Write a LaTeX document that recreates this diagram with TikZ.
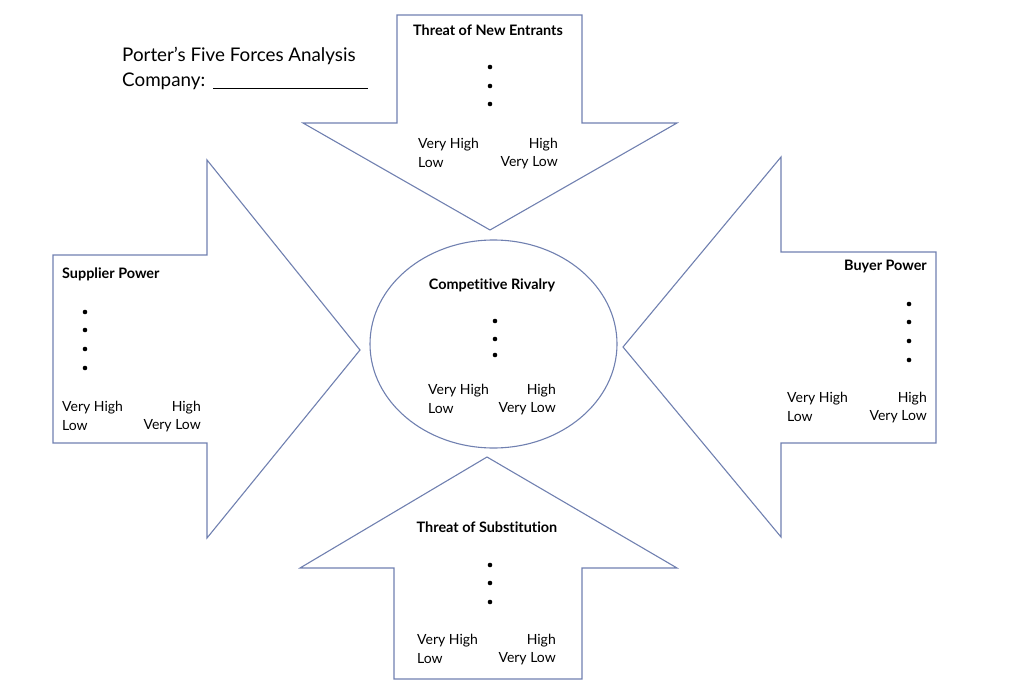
\documentclass[tikz,border=0pt]{standalone}
\usepackage{fontspec}
\setmainfont{Lato}[Ligatures={NoCommon,NoRequired,NoContextual}]
\definecolor{arrowline}{RGB}{112,128,176}
\begin{document}
\begin{tikzpicture}[x=1pt,y=-1pt,
  shape line/.style={draw=arrowline,line width=1.1pt,line join=miter},
  head/.style={font=\bfseries\fontsize{14.4}{16}\selectfont,inner sep=0pt,yshift=-1.5pt},
  lbl/.style={font=\fontsize{14}{16}\selectfont,inner sep=0pt,yshift=-1.5pt}]
\useasboundingbox (0,0) rectangle (1024,692);
% top arrow (down)
\draw[shape line] (397,15) -- (582,15) -- (582,123) -- (677,123) -- (490,230) -- (303,123) -- (397,123) -- cycle;
% left arrow (right)
\draw[shape line] (53,255) -- (207,255) -- (207,160) -- (360,350) -- (207,538) -- (207,443) -- (53,443) -- cycle;
% right arrow (left)
\draw[shape line] (936,252) -- (781,252) -- (781,157) -- (623,347) -- (781,537) -- (781,443) -- (936,443) -- cycle;
% bottom arrow (up)
\draw[shape line] (394,679) -- (582,679) -- (582,568) -- (677,568) -- (487,457) -- (300,568) -- (394,568) -- cycle;
% centre ellipse
\draw[shape line] (493.5,344) ellipse [x radius=123.5, y radius=104];

% title
\node[anchor=west,inner sep=0pt,font=\fontsize{18.8}{22}\selectfont,yshift=-1.5pt] (title) at (122,54) {Porter’s Five Forces Analysis};
\node[anchor=west,inner sep=0pt,font=\fontsize{18.8}{22}\selectfont,yshift=-1.5pt] (company) at (122,80) {Company:};
\coordinate (ulA) at (213,88);
\coordinate (ulB) at (368,88);
\draw[line width=0.9pt] (ulA) -- (ulB);

% top arrow text
\node[head] (tne) at (488,29) {Threat of New Entrants};
\foreach \yy in {67,86,104} \fill (490,\yy) circle (2.3pt);
\node[lbl,anchor=west] (tvh) at (418,143) {Very High};
\node[lbl,anchor=west] (tl) at (418,161) {Low};
\node[lbl,anchor=east] (th) at (558,143) {High};
\node[lbl,anchor=east] (tvl) at (558,161) {Very Low};

% supplier
\node[head,anchor=west] (sp) at (62,273) {Supplier Power};
\foreach \yy in {312,330,349,368} \fill (85,\yy) circle (2.3pt);
\node[lbl,anchor=west] (svh) at (62,406) {Very High};
\node[lbl,anchor=west] (sl) at (62,424) {Low};
\node[lbl,anchor=east] (sh) at (201,406) {High};
\node[lbl,anchor=east] (svl) at (201,424) {Very Low};

% buyer
\node[head,anchor=east] (bp) at (927,265) {Buyer Power};
\foreach \yy in {304,322,341,360} \fill (909,\yy) circle (2.3pt);
\node[lbl,anchor=west] (bvh) at (787,397) {Very High};
\node[lbl,anchor=west] (bl) at (787,415) {Low};
\node[lbl,anchor=east] (bh) at (927,397) {High};
\node[lbl,anchor=east] (bvl) at (927,415) {Very Low};

% centre
\node[head] (cr) at (492,284) {Competitive Rivalry};
\foreach \yy in {321,339,355} \fill (495,\yy) circle (2.3pt);
\node[lbl,anchor=west] (cvh) at (428,389) {Very High};
\node[lbl,anchor=west] (cl) at (428,407) {Low};
\node[lbl,anchor=east] (ch) at (556,389) {High};
\node[lbl,anchor=east] (cvl) at (556,407) {Very Low};

% bottom
\node[head] (ts) at (487,526) {Threat of Substitution};
\foreach \yy in {565,583,602} \fill (490,\yy) circle (2.3pt);
\node[lbl,anchor=west] (svh2) at (417,639) {Very High};
\node[lbl,anchor=west] (sl2) at (417,657) {Low};
\node[lbl,anchor=east] (sh2) at (556,639) {High};
\node[lbl,anchor=east] (svl2) at (556,657) {Very Low};
\end{tikzpicture}
\end{document}
